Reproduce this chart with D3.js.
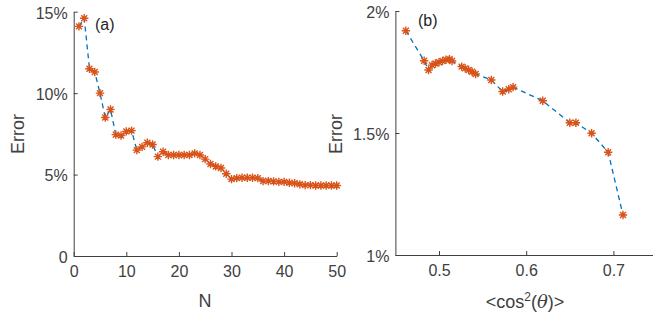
<!DOCTYPE html>
<html>
<head>
<meta charset="utf-8">
<script src="https://d3js.org/d3.v7.min.js"></script>
<style>
  body { margin: 0; background: #fff; }
  svg text { font-family: "Liberation Sans", Arial, Helvetica, sans-serif; fill: #404040; }
  .axis path, .axis line { stroke: #404040; }
</style>
</head>
<body>
<div id="chart"></div>
<script>
// panel (a): error vs N
var nVals = d3.range(1, 51);
var errA = [14.1, 14.6, 11.5, 11.3, 10.0, 8.5, 9.0, 7.45, 7.4, 7.65,
            7.7, 6.5, 6.7, 6.95, 6.85, 6.1, 6.4, 6.2, 6.2, 6.2,
            6.2, 6.2, 6.3, 6.2, 5.95, 5.65, 5.5, 5.4, 5.05, 4.72,
            4.78, 4.8, 4.8, 4.8, 4.78, 4.6, 4.6, 4.58, 4.55, 4.55,
            4.5, 4.47, 4.4, 4.35, 4.35, 4.33, 4.33, 4.33, 4.33, 4.33];
var ticksAx = [0, 10, 20, 30, 40, 50];
var ticksAy = [0, 5, 10, 15];
var tickLabelsAy = ["0", "5%", "10%", "15%"];

// panel (b): error vs <cos^2(theta)>
var cosVals = [0.462, 0.483, 0.488, 0.492, 0.496, 0.500, 0.504, 0.508, 0.512, 0.515,
               0.526, 0.530, 0.534, 0.538, 0.542, 0.560, 0.573, 0.580, 0.585, 0.619,
               0.650, 0.657, 0.675, 0.694, 0.711];
var errB = [1.919, 1.796, 1.758, 1.778, 1.785, 1.790, 1.795, 1.800, 1.802, 1.795,
            1.772, 1.765, 1.758, 1.751, 1.742, 1.717, 1.670, 1.679, 1.688, 1.632,
            1.542, 1.542, 1.499, 1.421, 1.164];
var ticksBx = [0.5, 0.6, 0.7];
var ticksBy = [1, 1.5, 2];
var tickLabelsBy = ["1%", "1.5%", "2%"];

var W = 653, H = 320;
var orange = "#D95319", blue = "#0072BD";

var svg = d3.select("#chart").append("svg")
    .attr("width", W).attr("height", H);

// asterisk marker = plus + x
function star(r) {
  var d = r * 0.7071;
  return "M" + (-r) + ",0L" + r + ",0M0," + (-r) + "L0," + r +
         "M" + (-d) + "," + (-d) + "L" + d + "," + d +
         "M" + (-d) + "," + d + "L" + d + "," + (-d);
}

function panel(opt) {
  var g = svg.append("g");
  var x = opt.x, y = opt.y;

  var xAxis = d3.axisBottom(x).tickValues(opt.xt).tickSizeInner(-4).tickSizeOuter(0)
      .tickPadding(10).tickFormat(opt.xf);
  var yAxis = d3.axisLeft(y).tickValues(opt.yt).tickSizeInner(-4).tickSizeOuter(0)
      .tickPadding(6).tickFormat(function(d, i) { return opt.yl[i]; });

  var gx = g.append("g").attr("class", "axis")
      .attr("transform", "translate(0," + y.range()[0] + ")").call(xAxis);
  var gy = g.append("g").attr("class", "axis")
      .attr("transform", "translate(" + x.range()[0] + ",0)").call(yAxis);
  g.selectAll(".axis text").style("font-size", "16px").style("font-family", null);
  gx.selectAll("text").attr("dy", "0.71em");
  gy.selectAll("text").attr("dy", "0.40em");

  var line = d3.line().x(function(d) { return x(d[0]); }).y(function(d) { return y(d[1]); });
  var pts = d3.zip(opt.xs, opt.ys);
  g.append("path").datum(pts).attr("d", line)
      .attr("fill", "none").attr("stroke", blue).attr("stroke-width", 1.3)
      .attr("stroke-dasharray", "5,4");
  g.selectAll(".m").data(pts).enter().append("path")
      .attr("class", "m")
      .attr("transform", function(d) { return "translate(" + x(d[0]) + "," + y(d[1]) + ")"; })
      .attr("d", star(4.2))
      .attr("fill", "none").attr("stroke", orange).attr("stroke-width", 1.4);

  g.append("text").attr("x", opt.tag[0]).attr("y", opt.tag[1])
      .style("font-size", "16px").style("fill", "#262626").text(opt.tagText);

  g.append("text")
      .attr("transform", "translate(" + opt.ylab[0] + "," + opt.ylab[1] + ") rotate(-90)")
      .attr("text-anchor", "middle").style("font-size", "18px").text("Error");
  return g;
}

var xA = d3.scaleLinear().domain([0, 50]).range([73.7, 336.7]);
var yA = d3.scaleLinear().domain([0, 15]).range([256, 11.7]);
var gA = panel({x: xA, y: yA, xt: ticksAx, yt: ticksAy, yl: tickLabelsAy,
  xf: d3.format("d"), xs: nVals, ys: errA, tag: [95, 30], tagText: "(a)", ylab: [24, 134]});
gA.append("text").attr("x", 205).attr("y", 307).attr("text-anchor", "middle")
    .style("font-size", "18px").text("N");

var xB = d3.scaleLinear().domain([0.45, 0.75]).range([395.4, 657]);
var yB = d3.scaleLinear().domain([1, 2]).range([255, 11]);
var gB = panel({x: xB, y: yB, xt: ticksBx, yt: ticksBy, yl: tickLabelsBy,
  xf: d3.format(".1f"), xs: cosVals, ys: errB, tag: [418, 26], tagText: "(b)", ylab: [342, 134]});
var xl = gB.append("text").attr("x", 525).attr("y", 308).attr("text-anchor", "middle")
    .style("font-size", "18px");
xl.append("tspan").text("<cos");
xl.append("tspan").attr("dy", -7).style("font-size", "12px").text("2");
xl.append("tspan").attr("dy", 7).text("(");
xl.append("tspan").style("font-family", "'DejaVu Serif', 'Liberation Serif', serif")
    .style("font-style", "italic").text("θ");
xl.append("tspan").text(")>");
</script>
</body>
</html>
